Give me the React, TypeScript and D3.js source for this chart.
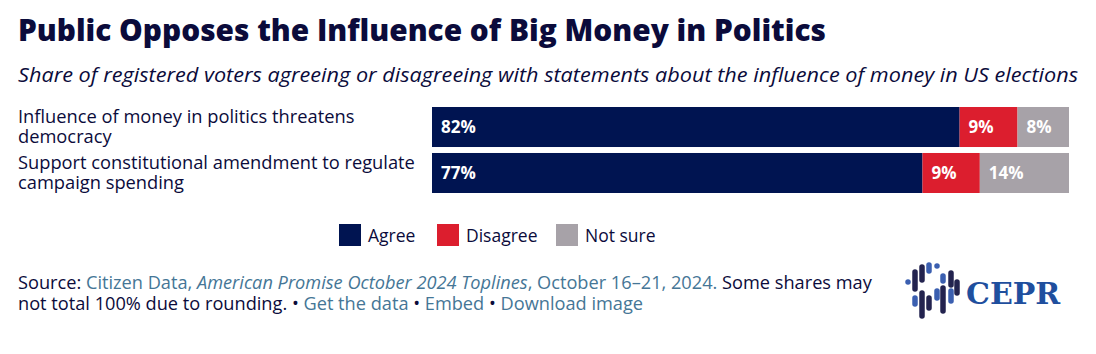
import React from "react";
import * as d3 from "d3";

const width = 1096;
const height = 354;
const margin = { left: 432, right: 27, top: 107, bottom: 161 };

const statements = [
  ["Influence of money in politics threatens", "democracy"],
  ["Support constitutional amendment to regulate", "campaign spending"],
];
const agree = [82, 77];
const disagree = [9, 9];
const notSure = [8, 14];
const responses = ["Agree", "Disagree", "Not sure"];
const colors = ["#001451", "#dc1e2e", "#a7a2a8"];

const ink = "#0b0b3b";
const link = "#457696";
const font = "'Open Sans', Lato, sans-serif";

// logo strokes: [x, y1, y2, blue?]
const logoBars: [number, number, number, boolean][] = [
  [908, 282, 282, true],
  [915, 272, 289, false],
  [922, 267, 280, false],
  [929, 265, 271, true],
  [937, 266, 266, true],
  [943, 276, 281, true],
  [951, 273, 285, false],
  [957, 282, 293, false],
  [915, 298, 304, true],
  [922, 293, 316, false],
  [929, 298, 308, false],
  [937, 291, 298, true],
  [943, 288, 311, false],
  [951, 291, 301, true],
];

export default function App() {
  const rows = statements.map((s, i) => ({
    label: s,
    values: [agree[i], disagree[i], notSure[i]],
  }));

  const y = d3
    .scaleBand<number>()
    .domain(d3.range(rows.length))
    .range([margin.top, height - margin.bottom])
    .paddingInner(0.13);

  return (
    <svg width={width} height={height} style={{ position: "absolute", left: 0, top: 0 }}>
      <rect width={width} height={height} fill="#fff" />
      <text x={18} y={41} fontFamily={font} fontWeight={800} fontSize={30} fill={ink} textLength={808} lengthAdjust="spacingAndGlyphs">
        Public Opposes the Influence of Big Money in Politics
      </text>
      <text x={18} y={82} fontFamily={font} fontStyle="italic" fontWeight={500} fontSize={20} fill={ink} textLength={1060} lengthAdjust="spacingAndGlyphs">
        Share of registered voters agreeing or disagreeing with statements about the influence of money in US elections
      </text>

      {rows.map((r, i) => {
        const total = d3.sum(r.values);
        const x = d3.scaleLinear().domain([0, total]).range([margin.left, width - margin.right]);
        const starts = d3.cumsum([0, ...r.values]);
        const y0 = y(i)!;
        const bh = y.bandwidth();
        return (
          <g key={i}>
            <text fontFamily={font} fontWeight={500} fontSize={18.3} fill={ink}>
              <tspan x={18} y={y0 + 16}>{r.label[0]}</tspan>
              <tspan x={18} y={y0 + 36}>{r.label[1]}</tspan>
            </text>
            {r.values.map((v, j) => (
              <g key={j}>
                <rect x={x(starts[j])} y={y0} width={x(starts[j] + v) - x(starts[j])} height={bh} fill={colors[j]} />
                <text
                  x={x(starts[j]) + 9}
                  y={y0 + bh / 2 + 6}
                  fontFamily={font}
                  fontWeight={700}
                  fontSize={17}
                  fill="#fff"
                >
                  {v}%
                </text>
              </g>
            ))}
          </g>
        );
      })}

      {responses.map((d, j) => {
        const lx = [339, 437, 556][j];
        return (
          <g key={d}>
            <rect x={lx} y={224} width={22} height={22} fill={colors[j]} />
            <text x={lx + 29} y={242} fontFamily={font} fontWeight={500} fontSize={17.5} fill={ink}>
              {d}
            </text>
          </g>
        );
      })}

      <text fontFamily={font} fontWeight={500} fontSize={18.2} fill={ink}>
        <tspan x={18} y={289}>Source: </tspan>
        <tspan fill={link}>Citizen Data, </tspan>
        <tspan fill={link} fontStyle="italic">American Promise October 2024 Toplines</tspan>
        <tspan fill={link}>, October 16–21, 2024.</tspan>
        <tspan> Some shares may</tspan>
        <tspan x={18} y={310}>not total 100% due to rounding. • </tspan>
        <tspan fill={link}>Get the data</tspan>
        <tspan> • </tspan>
        <tspan fill={link}>Embed</tspan>
        <tspan>  • </tspan>
        <tspan fill={link}>Download image</tspan>
      </text>

      <g strokeLinecap="round" strokeWidth={5.5}>
        {logoBars.map(([lx, a, b, blue], k) => (
          <line key={k} x1={lx} x2={lx} y1={a} y2={b + 0.01} stroke={blue ? "#3b5fb0" : "#23234f"} />
        ))}
      </g>
      <text x={966} y={304} fontFamily="'DejaVu Serif', 'Liberation Serif', serif" fontWeight={700} fontSize={30} fill="#1f4f9e">
        CEPR
      </text>
    </svg>
  );
}
